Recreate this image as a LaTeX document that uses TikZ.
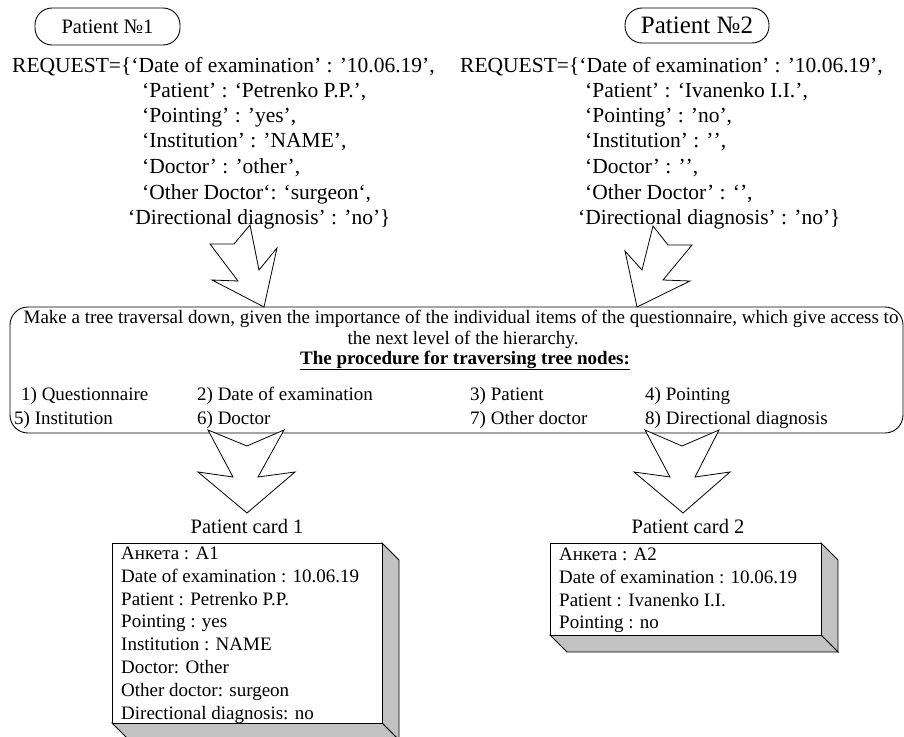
\documentclass[tikz,border=0pt]{standalone}
\usepackage{fontspec}
\setmainfont{Liberation Serif}
\newcommand{\qq}{\kern0pt}
\begin{document}
\begin{tikzpicture}[x=1pt,y=-1pt,
  oval/.style={draw, line width=0.9pt, rounded corners=17pt, inner sep=0pt},
  req/.style={anchor=base west, inner sep=0pt, font=\fontsize{21.5}{25}\selectfont},
  boxtxt/.style={inner sep=0pt, font=\fontsize{19}{22}\selectfont},
  item/.style={boxtxt, anchor=base west},
  cardtxt/.style={anchor=base west, inner sep=0pt, font=\fontsize{19}{22}\selectfont},
  cardtitle/.style={anchor=base, inner sep=0pt, font=\fontsize{20.5}{24}\selectfont},
  blockarrow/.style={draw, fill=white, line width=0.8pt, line join=miter},
  side/.style={draw, fill=black!24, line width=0.9pt},
  front/.style={draw, fill=white, line width=0.9pt, inner sep=0pt}]
\useasboundingbox (0,0) rectangle (904,736);

% patient labels
\node[oval, minimum width=145pt, minimum height=37pt, font=\fontsize{20.5}{24}\selectfont] (p1) at (107.5,26.5) {Patient №1};
\node[oval, minimum width=144pt, minimum height=35pt, font=\fontsize{25}{28}\selectfont] (p2) at (697,25.5) {Patient №2};

% request of patient 1
\node[req] (r1a) at (12,72)  {REQUEST=\{‘Date of examination’ : ’10.06.19’,};
\node[req] (r1b) at (142,97) {‘Patient’ : ‘Petrenko P.P.’,};
\node[req] (r1c) at (142,122) {‘Pointing’ : ’yes’,};
\node[req] (r1d) at (142,147) {‘Institution’ : ’NAME’,};
\node[req] (r1e) at (142,173) {‘Doctor’ : ’other’,};
\node[req] (r1f) at (142,199) {‘Other Doctor‘: ‘surgeon‘,};
\node[req] (r1g) at (128,224) {‘Directional diagnosis’ : ’no’\}};

% request of patient 2
\node[req] (r2a) at (460,72)  {REQUEST=\{‘Date of examination’ : ’10.06.19’,};
\node[req] (r2b) at (585,97) {‘Patient’ : ‘Ivanenko I.I.’,};
\node[req] (r2c) at (585,122) {‘Pointing’ : ’no’,};
\node[req] (r2d) at (585,147) {‘Institution’ : ’\qq’,};
\node[req] (r2e) at (585,173) {‘Doctor’ : ’\qq’,};
\node[req] (r2f) at (585,199) {‘Other Doctor’ : ‘\qq’,};
\node[req] (r2g) at (578,224) {‘Directional diagnosis’ : ’no’\}};

% procedure box
\node[draw, line width=0.9pt, rounded corners=18pt, minimum width=893pt, minimum height=126pt, inner sep=0pt] (proc) at (456.5,370) {};
\node[boxtxt, anchor=base] (t1) at (461,323) {Make a tree traversal down, given the importance of the individual items of the questionnaire, which give access to};
\node[boxtxt, anchor=base] (t2) at (463,344) {the next level of the hierarchy.};
\node[boxtxt, anchor=base] (t3) at (465,364) {\underline{\textbf{The procedure for traversing tree nodes:}}};
\node[item] (i1) at (21,400) {1) Questionnaire};
\node[item] (i2) at (197,400) {2) Date of examination};
\node[item] (i3) at (470,400) {3) Patient};
\node[item] (i4) at (645,400) {4) Pointing};
\node[item] (i5) at (14,424) {5) Institution};
\node[item] (i6) at (197,424) {6) Doctor};
\node[item] (i7) at (470,424) {7) Other doctor};
\node[item] (i8) at (645,424) {8) Directional diagnosis};

% block arrows into the procedure box
\draw[blockarrow] (250,225) -- (234,244) -- (210,244) -- (238,281) -- (212,280)
  -- (264,307) -- (277,248) -- (259,270) -- cycle;
\draw[blockarrow] (653,226) -- (668,245) -- (692,245) -- (663,280) -- (690,281)
  -- (637,307) -- (625,251) -- (642,270) -- cycle;

% block arrows out of the procedure box
\draw[blockarrow] (208,430) -- (247,446) -- (284,430) -- (258,477) -- (295,472)
  -- (247,513) -- (198,472) -- (233,477) -- cycle;
\draw[blockarrow] (645,430) -- (682,446) -- (719,430) -- (695,477) -- (730,472)
  -- (683,513) -- (634,472) -- (670,477) -- cycle;

% patient card 1
\node[cardtitle] (c1t) at (247,533) {Patient card 1};
\draw[side] (382,543) -- (399,560) -- (399,740) -- (382,723) -- cycle;
\draw[side] (112,723) -- (382,723) -- (399,740) -- (129,740) -- cycle;
\node[front, minimum width=270pt, minimum height=180pt] (c1) at (247,633) {};
\node[cardtxt] (c1a) at (121,559.5) {Анкета : A1};
\node[cardtxt] (c1b) at (121,582.3) {Date of examination : 10.06.19};
\node[cardtxt] (c1c) at (121,605.1) {Patient : Petrenko P.P.};
\node[cardtxt] (c1d) at (121,627.9) {Pointing : yes};
\node[cardtxt] (c1e) at (121,650.7) {Institution : NAME};
\node[cardtxt] (c1f) at (121,673.5) {Doctor: Other};
\node[cardtxt] (c1g) at (121,696.3) {Other doctor: surgeon};
\node[cardtxt] (c1h) at (121,719.1) {Directional diagnosis: no};

% patient card 2
\node[cardtitle] (c2t) at (688,533) {Patient card 2};
\draw[side] (821,543) -- (838,560) -- (838,652) -- (821,635) -- cycle;
\draw[side] (550,635) -- (821,635) -- (838,652) -- (567,652) -- cycle;
\node[front, minimum width=271pt, minimum height=92pt] (c2) at (685.5,589) {};
\node[cardtxt] (c2a) at (559,560.5) {Анкета : A2};
\node[cardtxt] (c2b) at (559,583.3) {Date of examination : 10.06.19};
\node[cardtxt] (c2c) at (559,606.1) {Patient : Ivanenko I.I.};
\node[cardtxt] (c2d) at (559,628.9) {Pointing : no};
\end{tikzpicture}
\end{document}
